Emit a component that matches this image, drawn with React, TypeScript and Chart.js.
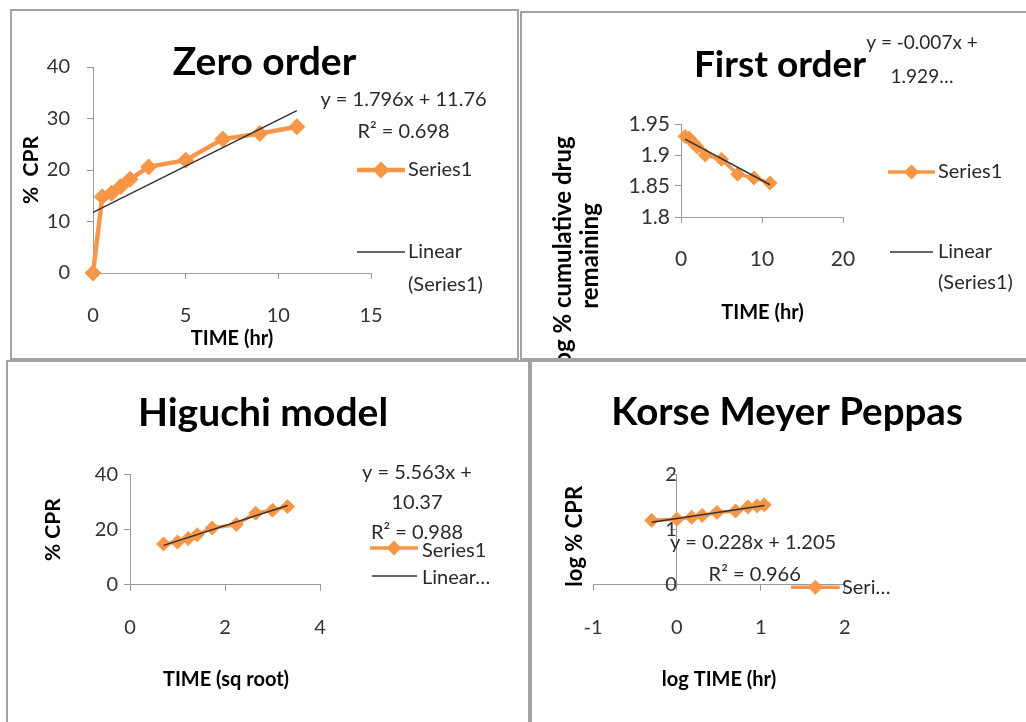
import React, { useEffect, useRef } from 'react';
import { Chart, registerables } from 'chart.js';

Chart.register(...registerables);

const ORANGE = '#F79646';
const TREND = '#333333';
const AXIS = '#9a9a9a';
const FONT = 'Lato, "Open Sans", sans-serif';

// ---------- Zero order ----------
const zeroTime = [0, 0.5, 1, 1.5, 2, 3, 5, 7, 9, 11];
const zeroCPR = [0, 14.8, 15.5, 16.8, 18.2, 20.6, 21.9, 26.0, 27.1, 28.4];
const zeroTrendX = [0, 11];
const zeroTrendY = [11.76, 31.52];
const zeroXTicks = [0, 5, 10, 15];
const zeroXLabels = ['0', '5', '10', '15'];
const zeroYTicks = [0, 10, 20, 30, 40];
const zeroYLabels = ['0', '10', '20', '30', '40'];

// ---------- First order ----------
const firstTime = [0.5, 1, 1.5, 2, 3, 5, 7, 9, 11];
const firstLogRemain = [1.93, 1.927, 1.92, 1.913, 1.9, 1.893, 1.869, 1.863, 1.855];
const firstTrendX = [0.5, 11];
const firstTrendY = [1.9255, 1.852];
const firstXTicks = [0, 10, 20];
const firstXLabels = ['0', '10', '20'];
const firstYTicks = [1.8, 1.85, 1.9, 1.95];
const firstYLabels = ['1.8', '1.85', '1.9', '1.95'];

// ---------- Higuchi ----------
const higuchiSqrtTime = [0.707, 1, 1.225, 1.414, 1.732, 2.236, 2.646, 3, 3.317];
const higuchiCPR = [14.8, 15.5, 16.8, 18.2, 20.6, 21.9, 26.0, 27.1, 28.4];
const higuchiTrendX = [0.707, 3.317];
const higuchiTrendY = [14.3, 28.82];
const higuchiXTicks = [0, 2, 4];
const higuchiXLabels = ['0', '2', '4'];
const higuchiYTicks = [0, 20, 40];
const higuchiYLabels = ['0', '20', '40'];

// ---------- Korsmeyer-Peppas ----------
const kpLogTime = [-0.301, 0, 0.176, 0.301, 0.477, 0.699, 0.845, 0.954, 1.041];
const kpLogCPR = [1.17, 1.19, 1.225, 1.26, 1.314, 1.34, 1.415, 1.433, 1.453];
const kpTrendX = [-0.301, 1.041];
const kpTrendY = [1.136, 1.442];
const kpXTicks = [-1, 0, 1, 2];
const kpXLabels = ['-1', '0', '1', '2'];
const kpYTicks = [0, 1, 2];
const kpYLabels = ['0', '1', '2'];

type TextItem = {
  t: string; x: number; y: number; size: number;
  bold?: boolean; align?: CanvasTextAlign; rot?: boolean; color?: string;
};
type LegendItem = { kind: 'series' | 'trend'; x1: number; x2: number; y: number };

type Spec = {
  box: { left: number; top: number; w: number; h: number };
  area: { l: number; r: number; t: number; b: number };
  xs: number[]; ys: number[]; tx: number[]; ty: number[];
  xTicks: number[]; xLabels: string[]; yTicks: number[]; yLabels: string[];
  tickSize: number; yTickPad: number; xTickPad: number;
  yAtZero?: boolean; pointR: number; lineW: number;
  texts: TextItem[]; legend: LegendItem[];
};

function overlay(spec: Spec) {
  return {
    id: 'overlay',
    afterDraw(chart: any) {
      const ctx: CanvasRenderingContext2D = chart.ctx;
      ctx.save();
      for (const l of spec.legend) {
        ctx.beginPath();
        ctx.moveTo(l.x1, l.y);
        ctx.lineTo(l.x2, l.y);
        if (l.kind === 'series') {
          ctx.strokeStyle = ORANGE;
          ctx.lineWidth = spec.lineW;
          ctx.stroke();
          const cx = (l.x1 + l.x2) / 2;
          const r = spec.pointR + 0.5;
          ctx.beginPath();
          ctx.moveTo(cx - r, l.y);
          ctx.lineTo(cx, l.y - r);
          ctx.lineTo(cx + r, l.y);
          ctx.lineTo(cx, l.y + r);
          ctx.closePath();
          ctx.fillStyle = ORANGE;
          ctx.fill();
        } else {
          ctx.strokeStyle = TREND;
          ctx.lineWidth = 1.5;
          ctx.stroke();
        }
      }
      for (const t of spec.texts) {
        ctx.save();
        ctx.font = `${t.bold ? 'bold ' : ''}${t.size}px ${FONT}`;
        ctx.fillStyle = t.color || '#2a2a2a';
        ctx.textAlign = t.align || 'center';
        ctx.textBaseline = 'middle';
        ctx.translate(t.x, t.y);
        if (t.rot) ctx.rotate(-Math.PI / 2);
        ctx.fillText(t.t, 0, 0);
        ctx.restore();
      }
      ctx.restore();
    },
  };
}

function buildConfig(spec: Spec): any {
  const W = spec.box.w - 4;
  const H = spec.box.h - 4;
  const a = spec.area;
  const grid = { display: true, drawOnChartArea: false, drawTicks: true, tickLength: 6, color: AXIS, lineWidth: 1 };
  const border = { display: true, color: AXIS, width: 1 };
  return {
    type: 'scatter',
    data: {
      datasets: [
        {
          label: 'Linear (Series1)',
          data: spec.tx.map((x, i) => ({ x, y: spec.ty[i] })),
          showLine: true,
          borderColor: TREND,
          borderWidth: 1.5,
          pointRadius: 0,
          order: 0,
          clip: false,
        },
        {
          label: 'Series1',
          data: spec.xs.map((x, i) => ({ x, y: spec.ys[i] })),
          showLine: true,
          borderColor: ORANGE,
          backgroundColor: ORANGE,
          borderWidth: spec.lineW,
          pointStyle: 'rectRot',
          pointRadius: spec.pointR,
          pointBorderWidth: 1,
          pointBorderColor: ORANGE,
          pointBackgroundColor: ORANGE,
          order: 1,
          clip: false,
        },
      ],
    },
    options: {
      responsive: false,
      animation: false,
      events: [],
      layout: {
        padding: { left: spec.yAtZero ? a.l : 0, right: W - a.r, top: a.t, bottom: 0 },
      },
      plugins: {
        legend: { display: false },
        title: { display: false },
        tooltip: { enabled: false },
      },
      scales: {
        x: {
          type: 'linear',
          position: 'bottom',
          min: spec.xTicks[0],
          max: spec.xTicks[spec.xTicks.length - 1],
          afterBuildTicks: (s: any) => { s.ticks = spec.xTicks.map((v) => ({ value: v })); },
          afterFit: (s: any) => { s.height = H - a.b; },
          grid, border,
          ticks: {
            callback: (_v: any, i: number) => spec.xLabels[i],
            font: { family: FONT, size: spec.tickSize },
            color: '#333',
            padding: spec.xTickPad,
            maxRotation: 0,
            autoSkip: false,
          },
        },
        y: {
          type: 'linear',
          position: spec.yAtZero ? { x: 0 } : 'left',
          min: spec.yTicks[0],
          max: spec.yTicks[spec.yTicks.length - 1],
          afterBuildTicks: (s: any) => { s.ticks = spec.yTicks.map((v) => ({ value: v })); },
          afterFit: (s: any) => { if (!spec.yAtZero) s.width = a.l; },
          grid, border,
          ticks: {
            callback: (_v: any, i: number) => spec.yLabels[i],
            font: { family: FONT, size: spec.tickSize },
            color: '#333',
            padding: spec.yTickPad,
            autoSkip: false,
          },
        },
      },
    },
    plugins: [overlay(spec)],
  };
}

const zeroSpec: Spec = {
  box: { left: 10, top: 9, w: 509, h: 351 },
  area: { l: 81, r: 359, t: 56, b: 262 },
  xs: zeroTime, ys: zeroCPR, tx: zeroTrendX, ty: zeroTrendY,
  xTicks: zeroXTicks, xLabels: zeroXLabels, yTicks: zeroYTicks, yLabels: zeroYLabels,
  tickSize: 20, yTickPad: 17, xTickPad: 25, pointR: 8, lineW: 4.5,
  texts: [
    { t: 'Zero order', x: 252.5, y: 51.5, size: 39, bold: true, color: '#000' },
    { t: 'y = 1.796x + 11.76', x: 391.5, y: 89, size: 20 },
    { t: 'R² = 0.698', x: 391.5, y: 121, size: 20 },
    { t: 'Series1', x: 396, y: 159, size: 20, align: 'left' },
    { t: 'Linear', x: 396, y: 241, size: 20, align: 'left' },
    { t: '(Series1)', x: 396, y: 274, size: 20, align: 'left' },
    { t: '%  CPR', x: 19.7, y: 159, size: 21, bold: true, rot: true, color: '#000' },
    { t: 'TIME (hr)', x: 220, y: 328, size: 20, bold: true, color: '#000' },
  ],
  legend: [
    { kind: 'series', x1: 345, x2: 393, y: 159 },
    { kind: 'trend', x1: 345, x2: 393, y: 241 },
  ],
};

const firstSpec: Spec = {
  box: { left: 520, top: 11, w: 510, h: 349 },
  area: { l: 159, r: 321, t: 111, b: 204 },
  xs: firstTime, ys: firstLogRemain, tx: firstTrendX, ty: firstTrendY,
  xTicks: firstXTicks, xLabels: firstXLabels, yTicks: firstYTicks, yLabels: firstYLabels,
  tickSize: 21, yTickPad: 5, xTickPad: 24, pointR: 7, lineW: 3.5,
  texts: [
    { t: 'First order', x: 258, y: 52, size: 37, bold: true, color: '#000' },
    { t: 'y = -0.007x +', x: 400, y: 30, size: 19 },
    { t: '1.929…', x: 400, y: 64, size: 19 },
    { t: 'Series1', x: 416, y: 159, size: 20, align: 'left' },
    { t: 'Linear', x: 416, y: 239, size: 20, align: 'left' },
    { t: '(Series1)', x: 416, y: 270, size: 20, align: 'left' },
    { t: 'log % cumulative drug', x: 41, y: 241, size: 24, bold: true, rot: true, color: '#000' },
    { t: 'remaining', x: 68, y: 243, size: 24, bold: true, rot: true, color: '#000' },
    { t: 'TIME (hr)', x: 240.5, y: 300, size: 20, bold: true, color: '#000' },
  ],
  legend: [
    { kind: 'series', x1: 366, x2: 413, y: 159 },
    { kind: 'trend', x1: 368, x2: 411, y: 239 },
  ],
};

const higuchiSpec: Spec = {
  box: { left: 6, top: 360, w: 524, h: 366 },
  area: { l: 122, r: 312, t: 112.7, b: 222.7 },
  xs: higuchiSqrtTime, ys: higuchiCPR, tx: higuchiTrendX, ty: higuchiTrendY,
  xTicks: higuchiXTicks, xLabels: higuchiXLabels, yTicks: higuchiYTicks, yLabels: higuchiYLabels,
  tickSize: 20, yTickPad: 6, xTickPad: 25, pointR: 7, lineW: 3.5,
  texts: [
    { t: 'Higuchi model', x: 255, y: 51, size: 39, bold: true, color: '#000' },
    { t: 'y = 5.563x +', x: 409, y: 111, size: 20 },
    { t: '10.37', x: 409, y: 141, size: 20 },
    { t: 'R² = 0.988', x: 409, y: 171, size: 20 },
    { t: 'Series1', x: 414, y: 189, size: 20, align: 'left' },
    { t: 'Linear…', x: 414, y: 216, size: 20, align: 'left' },
    { t: '% CPR', x: 45.3, y: 167.7, size: 21, bold: true, rot: true, color: '#000' },
    { t: 'TIME (sq root)', x: 218, y: 317.7, size: 20, bold: true, color: '#000' },
  ],
  legend: [
    { kind: 'series', x1: 362, x2: 410, y: 186 },
    { kind: 'trend', x1: 364, x2: 409, y: 214 },
  ],
};

const kpSpec: Spec = {
  box: { left: 530, top: 360, w: 500, h: 366 },
  area: { l: 61, r: 312.7, t: 112.7, b: 222.7 },
  xs: kpLogTime, ys: kpLogCPR, tx: kpTrendX, ty: kpTrendY,
  xTicks: kpXTicks, xLabels: kpXLabels, yTicks: kpYTicks, yLabels: kpYLabels,
  tickSize: 20, yTickPad: 16, xTickPad: 25, yAtZero: true, pointR: 7, lineW: 3.5,
  texts: [
    { t: 'Korse Meyer Peppas', x: 255, y: 51, size: 38.5, bold: true, color: '#000' },
    { t: 'y = 0.228x + 1.205', x: 221, y: 181, size: 20 },
    { t: 'R² = 0.966', x: 222.7, y: 212.7, size: 20 },
    { t: 'Seri…', x: 310, y: 226, size: 20, align: 'left' },
    { t: 'log % CPR', x: 42.7, y: 174.3, size: 22, bold: true, rot: true, color: '#000' },
    { t: 'log TIME (hr)', x: 187, y: 317.7, size: 20, bold: true, color: '#000' },
  ],
  legend: [{ kind: 'series', x1: 259, x2: 307.7, y: 225.3 }],
};

function Panel({ spec }: { spec: Spec }) {
  const ref = useRef<HTMLCanvasElement>(null);
  useEffect(() => {
    if (!ref.current) return;
    const chart = new Chart(ref.current, buildConfig(spec));
    return () => chart.destroy();
  }, [spec]);
  const b = spec.box;
  return (
    <div
      style={{
        position: 'absolute', left: b.left, top: b.top, width: b.w, height: b.h,
        boxSizing: 'border-box', border: '2px solid #a3a3a3', background: '#fff', overflow: 'hidden',
      }}
    >
      <canvas ref={ref} width={b.w - 4} height={b.h - 4} style={{ display: 'block' }} />
    </div>
  );
}

export default function App() {
  return (
    <div
      style={{
        position: 'absolute', left: 0, top: 0, width: 1026, height: 722,
        overflow: 'hidden', background: '#fff',
      }}
    >
      <Panel spec={zeroSpec} />
      <Panel spec={firstSpec} />
      <Panel spec={higuchiSpec} />
      <Panel spec={kpSpec} />
    </div>
  );
}
